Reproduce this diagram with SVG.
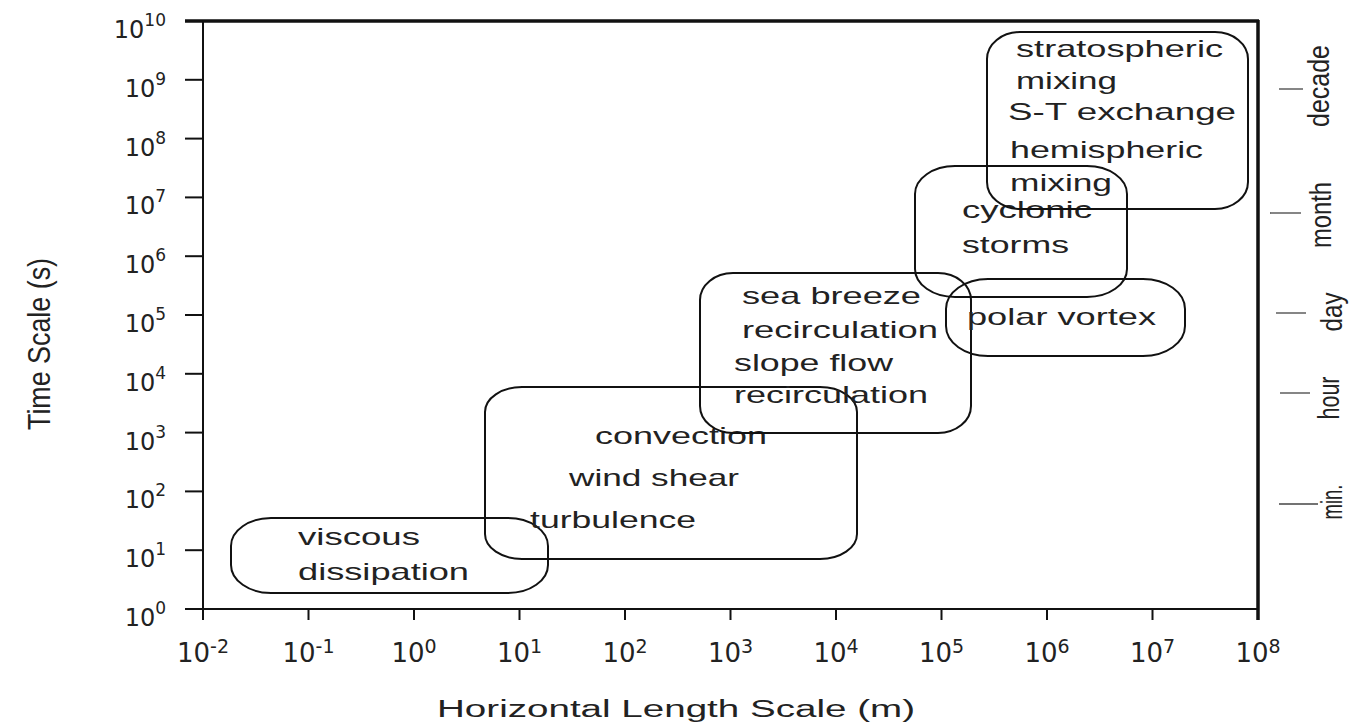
<svg xmlns="http://www.w3.org/2000/svg" width="1354" height="725" viewBox="0 0 1354 725">
<style>
.ax{stroke:#111;stroke-width:2;fill:none}
.axb{stroke:#111;stroke-width:3.5;fill:none}
.tk{stroke:#111;stroke-width:2}
.rt{stroke:#444;stroke-width:1.3}
.box{fill:none;stroke:#111;stroke-width:2}
.lbl{font-family:"Liberation Sans",Arial,sans-serif;font-size:24px;fill:#222}
.num{font-family:"DejaVu Sans","Liberation Sans",sans-serif;fill:#222}
.xn{font-size:26px}
.yn{font-size:24px}
.xs{font-size:19px}
.ys{font-size:17px}
.ttl{font-family:"Liberation Sans",Arial,sans-serif;fill:#222}
</style>
<rect width="1354" height="725" fill="#fff"/>
<g id="axes">
<line class="axb" x1="185" y1="21" x2="1259" y2="21"/>
<line class="axb" x1="1258" y1="20" x2="1258" y2="620"/>
<line class="ax" x1="203" y1="21" x2="203" y2="620"/>
<line class="ax" x1="185" y1="609" x2="1258" y2="609"/>
<g class="tk">
<line x1="185" y1="550.2" x2="203" y2="550.2"/>
<line x1="185" y1="491.4" x2="203" y2="491.4"/>
<line x1="185" y1="432.6" x2="203" y2="432.6"/>
<line x1="185" y1="373.8" x2="203" y2="373.8"/>
<line x1="185" y1="315" x2="203" y2="315"/>
<line x1="185" y1="256.2" x2="203" y2="256.2"/>
<line x1="185" y1="197.4" x2="203" y2="197.4"/>
<line x1="185" y1="138.6" x2="203" y2="138.6"/>
<line x1="185" y1="79.8" x2="203" y2="79.8"/>
<line x1="308.5" y1="609" x2="308.5" y2="620"/>
<line x1="414" y1="609" x2="414" y2="620"/>
<line x1="519.5" y1="609" x2="519.5" y2="620"/>
<line x1="625" y1="609" x2="625" y2="620"/>
<line x1="730.5" y1="609" x2="730.5" y2="620"/>
<line x1="836" y1="609" x2="836" y2="620"/>
<line x1="941.5" y1="609" x2="941.5" y2="620"/>
<line x1="1047" y1="609" x2="1047" y2="620"/>
<line x1="1152.5" y1="609" x2="1152.5" y2="620"/>
</g>
<g class="num" text-anchor="end">
<text x="166" y="626"><tspan class="yn">10</tspan><tspan class="ys" dy="-12">0</tspan></text>
<text x="166" y="567.2"><tspan class="yn">10</tspan><tspan class="ys" dy="-12">1</tspan></text>
<text x="166" y="508.4"><tspan class="yn">10</tspan><tspan class="ys" dy="-12">2</tspan></text>
<text x="166" y="449.6"><tspan class="yn">10</tspan><tspan class="ys" dy="-12">3</tspan></text>
<text x="166" y="390.8"><tspan class="yn">10</tspan><tspan class="ys" dy="-12">4</tspan></text>
<text x="166" y="332"><tspan class="yn">10</tspan><tspan class="ys" dy="-12">5</tspan></text>
<text x="166" y="273.2"><tspan class="yn">10</tspan><tspan class="ys" dy="-12">6</tspan></text>
<text x="166" y="214.4"><tspan class="yn">10</tspan><tspan class="ys" dy="-12">7</tspan></text>
<text x="166" y="155.6"><tspan class="yn">10</tspan><tspan class="ys" dy="-12">8</tspan></text>
<text x="166" y="96.8"><tspan class="yn">10</tspan><tspan class="ys" dy="-12">9</tspan></text>
<text x="166" y="38"><tspan class="yn">10</tspan><tspan class="ys" dy="-12">10</tspan></text>
</g>
<g class="num" text-anchor="middle">
<text x="203" y="662"><tspan class="xn">10</tspan><tspan class="xs" dy="-9">-2</tspan></text>
<text x="308.5" y="662"><tspan class="xn">10</tspan><tspan class="xs" dy="-9">-1</tspan></text>
<text x="414" y="662"><tspan class="xn">10</tspan><tspan class="xs" dy="-9">0</tspan></text>
<text x="519.5" y="662"><tspan class="xn">10</tspan><tspan class="xs" dy="-9">1</tspan></text>
<text x="625" y="662"><tspan class="xn">10</tspan><tspan class="xs" dy="-9">2</tspan></text>
<text x="730.5" y="662"><tspan class="xn">10</tspan><tspan class="xs" dy="-9">3</tspan></text>
<text x="836" y="662"><tspan class="xn">10</tspan><tspan class="xs" dy="-9">4</tspan></text>
<text x="941.5" y="662"><tspan class="xn">10</tspan><tspan class="xs" dy="-9">5</tspan></text>
<text x="1047" y="662"><tspan class="xn">10</tspan><tspan class="xs" dy="-9">6</tspan></text>
<text x="1152.5" y="662"><tspan class="xn">10</tspan><tspan class="xs" dy="-9">7</tspan></text>
<text x="1258" y="662"><tspan class="xn">10</tspan><tspan class="xs" dy="-9">8</tspan></text>
</g>
<text class="ttl" x="437" y="717" font-size="23" textLength="478" lengthAdjust="spacingAndGlyphs">Horizontal Length Scale (m)</text>
<text class="ttl" x="50" y="344" font-size="32" text-anchor="middle" textLength="172" lengthAdjust="spacingAndGlyphs" transform="rotate(-90 50 344)">Time Scale (s)</text>
</g>
<g id="time-markers">
<line class="rt" x1="1279" y1="89" x2="1303" y2="89"/>
<line class="rt" x1="1270" y1="213" x2="1301" y2="213"/>
<line class="rt" x1="1276" y1="313" x2="1306" y2="313" stroke-width="3"/>
<line class="rt" x1="1280" y1="393" x2="1310" y2="393"/>
<line class="rt" x1="1279" y1="504" x2="1318" y2="504"/>
<g class="ttl" font-size="30" text-anchor="middle">
<text x="1329" y="86" textLength="82" lengthAdjust="spacingAndGlyphs" transform="rotate(-90 1329 86)">decade</text>
<text x="1331" y="215" textLength="66" lengthAdjust="spacingAndGlyphs" transform="rotate(-90 1331 215)">month</text>
<text x="1342" y="312" textLength="39" lengthAdjust="spacingAndGlyphs" transform="rotate(-90 1342 312)">day</text>
<text x="1339" y="398" textLength="43" lengthAdjust="spacingAndGlyphs" transform="rotate(-90 1339 398)">hour</text>
<text x="1342" y="502" textLength="35" lengthAdjust="spacingAndGlyphs" transform="rotate(-90 1342 502)">min.</text>
</g>
</g>
<g id="viscous-dissipation">
<rect class="box" x="231" y="518" width="317" height="75" rx="40" ry="28"/>
<text class="lbl" x="298" y="545" textLength="122" lengthAdjust="spacingAndGlyphs">viscous</text>
<text class="lbl" x="298" y="580" textLength="171" lengthAdjust="spacingAndGlyphs">dissipation</text>
</g>
<g id="convection">
<rect class="box" x="485" y="387" width="372" height="172" rx="37" ry="25"/>
<text class="lbl" x="595" y="444" textLength="172" lengthAdjust="spacingAndGlyphs">convection</text>
<text class="lbl" x="569" y="486" textLength="170" lengthAdjust="spacingAndGlyphs">wind shear</text>
<text class="lbl" x="530" y="528" textLength="166" lengthAdjust="spacingAndGlyphs">turbulence</text>
</g>
<g id="sea-breeze">
<rect class="box" x="700" y="273" width="271" height="160" rx="33" ry="27"/>
<text class="lbl" x="742" y="304" textLength="179" lengthAdjust="spacingAndGlyphs">sea breeze</text>
<text class="lbl" x="742" y="338" textLength="196" lengthAdjust="spacingAndGlyphs">recirculation</text>
<text class="lbl" x="734" y="371" textLength="159" lengthAdjust="spacingAndGlyphs">slope flow</text>
<text class="lbl" x="734" y="403" textLength="194" lengthAdjust="spacingAndGlyphs">recirculation</text>
</g>
<g id="cyclonic-storms">
<rect class="box" x="915" y="166" width="212" height="131" rx="40" ry="28"/>
<text class="lbl" x="962" y="218" textLength="130" lengthAdjust="spacingAndGlyphs">cyclonic</text>
<text class="lbl" x="962" y="253" textLength="107" lengthAdjust="spacingAndGlyphs">storms</text>
</g>
<g id="polar-vortex">
<rect class="box" x="946" y="279" width="239" height="77" rx="42" ry="30"/>
<text class="lbl" x="967" y="325" textLength="189" lengthAdjust="spacingAndGlyphs">polar vortex</text>
</g>
<g id="stratospheric-mixing">
<rect class="box" x="987" y="32" width="261" height="177" rx="33" ry="27"/>
<text class="lbl" x="1016" y="57" textLength="207" lengthAdjust="spacingAndGlyphs">stratospheric</text>
<text class="lbl" x="1016" y="89" textLength="101" lengthAdjust="spacingAndGlyphs">mixing</text>
<text class="lbl" x="1008" y="120" textLength="228" lengthAdjust="spacingAndGlyphs">S-T exchange</text>
<text class="lbl" x="1010" y="158" textLength="193" lengthAdjust="spacingAndGlyphs">hemispheric</text>
<text class="lbl" x="1010" y="191" textLength="102" lengthAdjust="spacingAndGlyphs">mixing</text>
</g>
</svg>
